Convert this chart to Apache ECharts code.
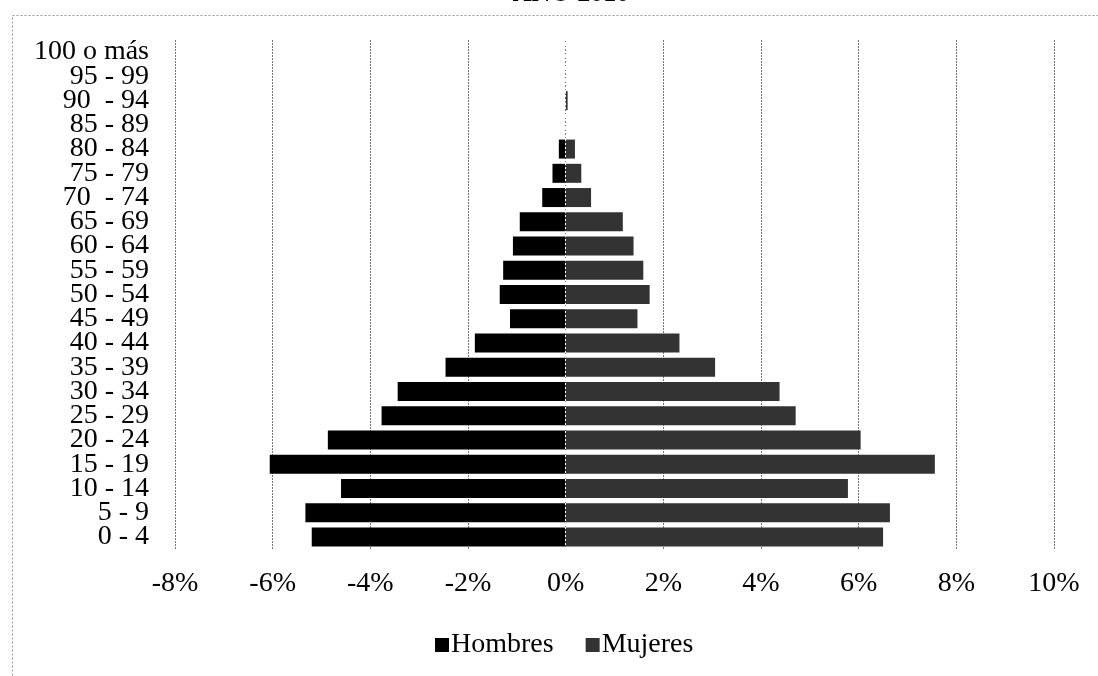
<!DOCTYPE html>
<html>
<head>
<meta charset="utf-8">
<script src="https://cdn.jsdelivr.net/npm/echarts@6/dist/echarts.min.js"></script>
<style>html,body{margin:0;padding:0;background:#fff}#c{width:1098px;height:676px}</style>
</head>
<body>
<div id="c"></div>
<script>
var categories = ['0 - 4','5 - 9','10 - 14','15 - 19','20 - 24','25 - 29','30 - 34','35 - 39','40 - 44','45 - 49','50 - 54','55 - 59','60 - 64','65 - 69','70  - 74','75 - 79','80 - 84','85 - 89','90  - 94','95 - 99','100 o más'];
var hombres = [5.20, 5.33, 4.60, 6.06, 4.87, 3.77, 3.44, 2.46, 1.86, 1.14, 1.35, 1.28, 1.08, 0.94, 0.48, 0.27, 0.14, 0, 0, 0, 0];
var mujeres = [6.50, 6.64, 5.78, 7.56, 6.04, 4.71, 4.38, 3.06, 2.33, 1.47, 1.72, 1.59, 1.39, 1.17, 0.52, 0.32, 0.19, 0, 0.04, 0, 0];
var xTicks = {min: -8, max: 10, interval: 2};
var titleText = 'AÑO 2010';

var serif = '"Liberation Serif", "DejaVu Serif", serif';
var chart = echarts.init(document.getElementById('c'), null, {renderer: 'canvas'});
chart.setOption({
  animation: false,
  backgroundColor: '#fff',
  title: {
    text: titleText, left: 566, top: -24, textAlign: 'center',
    textStyle: {fontFamily: serif, fontSize: 26, fontWeight: 'bold', color: '#000'}
  },
  graphic: [{
    type: 'rect', silent: true, z: -1,
    shape: {x: 12.5, y: 15.5, width: 1200, height: 800},
    style: {fill: 'none', stroke: '#999', lineWidth: 1, lineDash: [2, 2]}
  }],
  legend: {
    left: 430, top: 626,
    itemWidth: 14, itemHeight: 14, itemGap: 32, icon: 'rect',
    textStyle: {fontFamily: serif, fontSize: 28, color: '#000', padding: [0, 0, 0, -3]},
    data: ['Hombres', 'Mujeres']
  },
  grid: {left: 175, right: 44, top: 40, bottom: 127, containLabel: false},
  xAxis: {
    type: 'value', min: xTicks.min, max: xTicks.max, interval: xTicks.interval,
    axisLine: {show: false}, axisTick: {show: false},
    axisLabel: {formatter: function (v) { return v + '%'; }, fontFamily: serif, fontSize: 28, color: '#000', margin: 21},
    splitLine: {show: true, lineStyle: {color: '#777', width: 1, type: [2, 1]}}
  },
  yAxis: {
    type: 'category', data: categories,
    axisLine: {show: false}, axisTick: {show: false},
    axisLabel: {interval: 0, fontFamily: serif, fontSize: 28, color: '#000', margin: 26, lineHeight: 24}
  },
  series: [{
    name: 'Hombres', type: 'bar', stack: 'p', barWidth: 19,
    itemStyle: {color: '#000'},
    data: hombres.map(function (v) { return -v; })
  }, {
    name: 'Mujeres', type: 'bar', stack: 'p', barWidth: 19,
    itemStyle: {color: '#333'},
    data: mujeres,
    markLine: {
      silent: true, symbol: 'none', label: {show: false},
      lineStyle: {color: '#fff', width: 1, type: [2, 2]},
      data: [{xAxis: 0}]
    }
  }]
});
</script>
</body>
</html>
